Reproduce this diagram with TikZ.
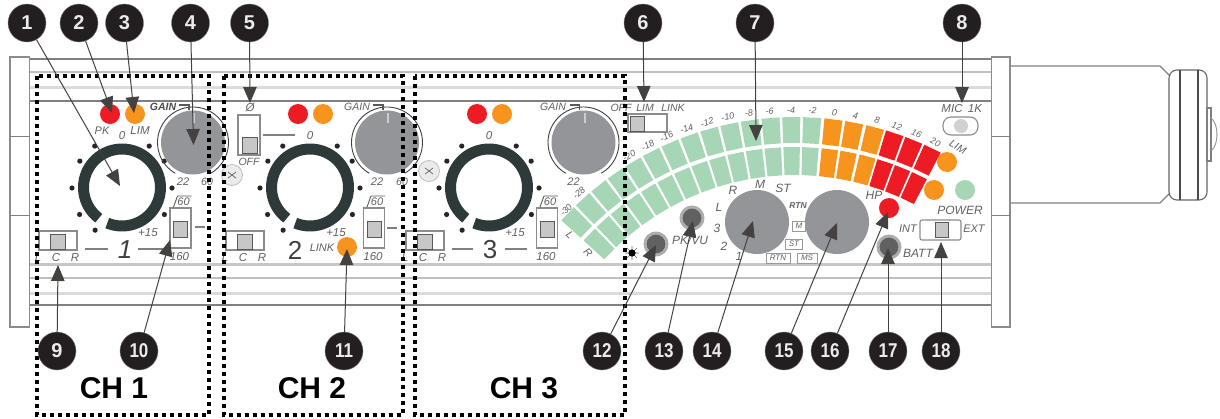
\documentclass[tikz,border=0pt]{standalone}
\usepackage{fontspec}
\setmainfont{Liberation Sans}
\usetikzlibrary{arrows.meta}
\definecolor{cgreen}{HTML}{A6D6B6}
\definecolor{corange}{HTML}{F7941D}
\definecolor{cred}{HTML}{ED1C24}
\definecolor{cknob}{HTML}{939598}
\definecolor{cring}{HTML}{2E3A39}
\definecolor{cblack}{HTML}{231F20}
\definecolor{clab}{HTML}{606060}
\definecolor{cline}{HTML}{808080}
\newcounter{lab}
\newcommand\lab[3][]{\stepcounter{lab}\node[lbl,#1] (lab\arabic{lab}) at (#2) {#3};}
\newcommand\fs[1]{\fontsize{#1}{#1}\selectfont\itshape}
\newcommand\tile[2]{%
  \fill[#2] ({795+258*sin(#1-1.65)},{433-258*cos(#1-1.65)}) -- ({795+286*sin(#1-1.65)},{433-286*cos(#1-1.65)}) -- ({795+286*sin(#1+1.65)},{433-286*cos(#1+1.65)}) -- ({795+258*sin(#1+1.65)},{433-258*cos(#1+1.65)}) -- cycle;
  \fill[#2] ({795+290*sin(#1-1.65)},{433-290*cos(#1-1.65)}) -- ({795+316*sin(#1-1.65)},{433-316*cos(#1-1.65)}) -- ({795+316*sin(#1+1.65)},{433-316*cos(#1+1.65)}) -- ({795+290*sin(#1+1.65)},{433-290*cos(#1+1.65)}) -- cycle;}
\tikzset{
  lbl/.style={font=\fs{10.5},text=clab,inner sep=0pt},
  meterlab/.style={font=\fs{9}},
  biglab/.style={font=\fs{12}},
  numc/.style={circle,fill=cblack,draw=cblack!60,line width=.4pt,minimum size=38pt,inner sep=0pt,text=white!92!black,font=\fontsize{20}{20}\selectfont\bfseries},
  callout/.style={draw=cblack!85,line width=1pt,-{Triangle[length=16pt,width=13.5pt]}},
  chbox/.style={draw=black,line width=3.6pt,dash pattern=on 4pt off 4pt},
  chlab/.style={font=\fontsize{30}{30}\selectfont\bfseries,text=black,inner sep=0pt},
  body/.style={draw=cline,line width=1.3pt},
  soft/.style={draw=black!25,line width=1.2pt},
  softw/.style={draw=black!14,line width=3pt},
  frameb/.style={draw=black!45,line width=1.1pt,fill=white},
  slider/.style={draw=black!65,line width=1pt,fill=black!22},
  led/.style={circle,inner sep=0pt,minimum size=20pt},
  pot/.style={circle,fill=black!62,draw=black!32,line width=3pt,minimum size=22pt,inner sep=0pt},
  mini/.style={draw=black!40,line width=.8pt,fill=white,inner sep=0pt,font=\fs{8},text=clab},
  knob/.style={circle,fill=cknob,inner sep=0pt,minimum size=64pt},
}
\begin{document}
\begin{tikzpicture}[x=1pt,y=-1pt]
\useasboundingbox (0,0) rectangle (1220,418);
% microphone body
\draw[draw=black!50,line width=1.1pt] (1010,66) -- (1160,66) -- (1170,76) (1010,203) -- (1160,203) -- (1170,193);
\draw[draw=black!60,line width=1.1pt,rounded corners=8pt] (1169,70) rectangle (1207,200);
\draw[draw=black!70,line width=1.1pt] (1180,70) -- (1180,200) (1198,70) -- (1198,200);
\draw[draw=black!50,line width=1.1pt] (1207,108) rectangle (1211,161);
\draw[draw=black!40,line width=1pt] (1211,118) .. controls (1219,124) and (1219,145) .. (1211,151);
% panel lines
\draw[body] (30,59) -- (992,59);
\draw[soft] (30,72) -- (992,72);
\draw[softw] (30,87) -- (992,87);
\draw[body] (30,101) -- (992,101);
\draw[softw,draw=black!22] (30,264) -- (992,264);
\draw[soft] (30,278) -- (992,278);
\draw[softw] (30,293) -- (992,293);
\draw[body] (30,305) -- (992,305);
% end caps
\draw[frameb] (10,57) rectangle (29.5,327);
\draw[frameb] (991.5,57) rectangle (1010,327);
\draw[body,line width=1pt] (10,136) -- (29.5,136) (10,215) -- (29.5,215) (991.5,136) -- (1010,136) (991.5,215) -- (1010,215);
% channel strips
\foreach \cx/\gx/\hx/\rd/\sx in {122/193/180.5/110/39,310/387/374/298/226,489/583.5/547/477/406}{
  \draw[cring,line width=11pt] plot[domain=247.5:593,samples=70] ({\cx+38.5*cos(\x)},{187.5-38.5*sin(\x)});
  \foreach \a in {0,32.5,57,123,147.5,180,212,237.5,328}
    \fill[black!85] ({\cx+50*cos(\a)},{188-50*sin(\a)}) circle (2.6pt);
  \lab[font=\fs{11.5}]{\cx,136}{0}
  \lab[font=\fs{11.5}]{\cx+26,233}{+15}
  % gain knob
  \node[knob] (gain\cx) at (\gx,142.5) {};
  \draw[black!75,line width=.9pt] plot[domain=-60:240,samples=60] ({\gx+35.5*cos(\x)},{142.5-35.5*sin(\x)});
  \draw[white!80!black,line width=2pt] (\gx+1,113) -- (\gx+1,123);
  \draw[black!65,line width=1.2pt] (\gx-14,105) -- (\gx-4,105) -- (\gx-4,110);
  \lab[font=\fs{11}]{\gx-10,182}{22}
  % LEDs
  \node[led,fill=cred] (ledr\cx) at (\rd,114) {};
  \node[led,fill=corange] (ledo\cx) at (\rd+25,114) {};
  % HPF switch
  \draw[frameb] (\hx-10.5,208) rectangle (\hx+10.5,248);
  \draw[slider] (\hx-7,221) rectangle (\hx+7,237);
  \draw[black!65,line width=.9pt] (\hx-7,207) -- (\hx-3,196) -- (\hx+11,196);
  \lab[font=\fs{11}]{\hx+3,201.5}{60}
  \lab[font=\fs{11.5}]{\hx-1,256.5}{160}
  % LCR switch
  \draw[frameb] (\sx,231) rectangle (\sx+38,250);
  \draw[slider] (\sx+11,234) rectangle (\sx+26,249);
  \lab[font=\fs{11.5}]{\sx-1,257.5}{L}
  \lab[font=\fs{11.5}]{\sx+17,257.5}{C}
  \lab[font=\fs{11.5}]{\sx+36,257.5}{R}
}
\lab[font=\fs{10.5}\bfseries,text=black!70]{163,107}{GAIN}
\lab[font=\fs{10.5}]{357,107}{GAIN}
\lab[font=\fs{10.5}]{553,107}{GAIN}
\lab[font=\fs{10.5}]{207,182}{60}
\lab[font=\fs{10.5}]{402,182}{60}
\lab[font=\fs{11}]{102,131}{PK}
\lab[font=\fs{11.5}]{140,131}{LIM}
% channel names and rules
\draw[draw=black!50,line width=1.2pt] (85,249) -- (108,249) (138,249) -- (163,249) (195,227) -- (205,227) (387,228) -- (397,228) (452,249) -- (473,249) (505,249) -- (527,249) (263,135) -- (295,135);
\lab[font=\fs{26},text=black!75]{125,250}{1}
\lab[font=\fontsize{26}{26}\selectfont,text=black!75]{295,250}{2}
\lab[font=\fontsize{26}{26}\selectfont,text=black!75]{490,250}{3}
\lab[font=\fs{11}]{322,248}{LINK}
\node[led,fill=corange] (ledlink) at (347,247) {};
% polarity switch and screws
\draw[frameb] (238,115) rectangle (260,155);
\draw[slider] (242,137) rectangle (257,153);
\lab[font=\fs{11.5}]{250,108}{Ø}
\lab{249,162}{OFF}
\foreach \x/\y in {232/175,429/171}{
  \draw[black!25,fill=black!8,line width=.8pt] (\x,\y) circle (10.5pt);
  \draw[black!60,line width=.7pt] (\x-4,\y-3) -- (\x+4,\y+3) (\x-4,\y+3) -- (\x+4,\y-3);
}
% meter
\foreach \k in {0,...,13}{ \tile{3.1-3.78*\k}{cgreen} }
\foreach \t in {7,10.8,14.7}{ \tile{\t}{corange} }
\foreach \t in {18.4,22.1,25.8}{ \tile{\t}{cred} }
\foreach \t/\s in {3.1/-2,-0.7/-4,-4.5/-6,-8.2/-8,-12/-10,-15.8/-12,-19.6/-14,-23.4/-16,-27.1/-18,-30.9/-20,-42/-28,7/0,10.8/4,14.7/8,18.4/12,22.1/16,25.8/20}{
  \lab[meterlab,rotate={-\t}]{{795+323*sin(\t)},{433-323*cos(\t)}}{\s}
}
\lab[meterlab,rotate=47]{566,210}{-30}
\lab[rotate=-45]{570,235}{L}
\lab[rotate=-45]{588,253}{R}
\lab[rotate=-30]{958,147}{LIM}
\node[led,fill=corange] (ledlim) at (947,162) {};
\node[led,fill=corange] (ledlim2) at (934,190) {};
\node[led,fill=cgreen] (ledpow) at (965,190) {};
\lab[font=\fs{12}]{960,210}{POWER}
\node[led,fill=cred] (ledhp) at (889,208) {};
\lab[font=\fs{12}]{874,195}{HP}
% link switch
\lab{621,108}{OFF}
\lab{645,108}{LIM}
\lab{673,108}{LINK}
\draw[frameb] (628,114) rectangle (667,132);
\draw[slider] (630,116) rectangle (644,131);
% mic switch
\lab[font=\fs{11.5}]{952,109}{MIC}
\lab[font=\fs{11.5}]{975,109}{1K}
\draw[frameb,rounded corners=8pt] (943,117) rectangle (978,135);
\fill[black!18] (961,126) circle (7pt);
% pots
\node[pot] (pot1) at (656,244) {};
\node[pot] (pot2) at (692,218) {};
\node[pot] (pot3) at (889,247) {};
\lab[font=\fs{12}]{690,240}{PK/VU}
\lab[font=\fs{12}]{918,253}{BATT}
\draw[black!60,line width=.6pt] (625,253) -- (639,253) (632,246) -- (632,260) (627,248) -- (637,258) (627,258) -- (637,248);
\fill[black] (632,253) circle (3.6pt);
% big knobs
\node[knob] (knobl) at (757,222) {};
\node[knob] (knobr) at (837,222) {};
\lab[biglab]{733,190}{R}
\lab[biglab]{760,184}{M}
\lab[biglab]{783,188}{ST}
\lab[biglab]{719,207}{L}
\lab[biglab]{717,228}{3}
\lab[biglab]{724,246}{2}
\lab[biglab]{739,256}{1}
\lab[font=\fs{8.5}\bfseries]{798,206}{RTN}
\node[mini,minimum width=13pt,minimum height=10pt] (bm) at (799,226) {M};
\node[mini,minimum width=17pt,minimum height=10pt] (bst) at (794,244) {ST};
\node[mini,minimum width=24pt,minimum height=10pt] (brtn) at (778,258) {RTN};
\node[mini,minimum width=20pt,minimum height=10pt] (bms) at (807,258) {MS};
% int/ext
\lab[font=\fs{11}]{908,229}{INT}
\lab[font=\fs{11}]{974,229}{EXT}
\draw[frameb,rounded corners=2pt] (920,220) rectangle (961,240);
\draw[slider] (935,222) rectangle (948,237);
% channel boxes
\draw[chbox] (37,76) rectangle (209,415);
\draw[chbox] (224,76) rectangle (403,415);
\draw[chbox] (415,76) rectangle (625,415);
\node[chlab] (ch1) at (114,388) {CH 1};
\node[chlab] (ch2) at (312,388) {CH 2};
\node[chlab] (ch3) at (524,388) {CH 3};
% callouts
\foreach \n/\x/\y/\tx/\ty in {1/27/23/120/186,2/79/23/112/113,3/124.5/23/134/113,4/190.5/23/193.5/145,5/249.5/23/250/103,6/643/23/644/102,7/755/23/756/141,8/962/23/962/103,9/57/351/58/265,10/139/351/170/240,11/344/351/347/249,12/602/351/656/245,13/664/351/693/221,14/712/351/753/221,15/784/351/837/223,16/830/351/888/212,17/888/351/888/248,18/941/351/941/242}{
  \node[numc] (n\n) at (\x,\y) {\ifnum\n>9 \scalebox{.85}[1]{\n}\else\n\fi};
  \coordinate (t\n) at (\tx,\ty);
  \draw[callout] (n\n) -- (t\n);
}
\end{tikzpicture}
\end{document}
